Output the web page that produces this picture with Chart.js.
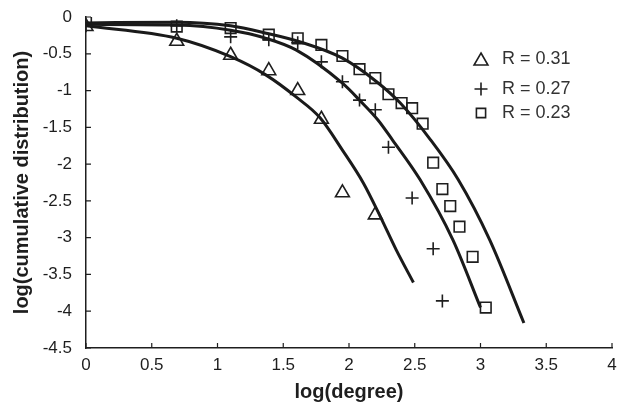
<!DOCTYPE html>
<html>
<head>
<meta charset="utf-8">
<script src="https://cdn.jsdelivr.net/npm/chart.js@4/dist/chart.umd.min.js"></script>
<style>
  html, body { margin: 0; padding: 0; background: #fff; }
  #wrap { width: 618px; height: 408px; }
</style>
</head>
<body>
<div id="wrap"><canvas id="chart" width="618" height="408"></canvas></div>
<script>
// tick labels
const xTicks = ['0', '0.5', '1', '1.5', '2', '2.5', '3', '3.5', '4'];
const yTicks = ['0', '-0.5', '-1', '-1.5', '-2', '-2.5', '-3', '-3.5', '-4', '-4.5'];

// legend labels
const seriesNames = ['R = 0.31', 'R = 0.27', 'R = 0.23'];

// measured points, log(degree) vs log(cumulative distribution)
const triX = [0, 0.69, 1.1, 1.39, 1.61, 1.79, 1.95, 2.2];
const triY = [-0.13, -0.33, -0.52, -0.73, -1.0, -1.39, -2.39, -2.69];

const plusX = [0, 0.69, 1.1, 1.39, 1.61, 1.79, 1.95, 2.08, 2.2, 2.3, 2.48, 2.64, 2.71];
const plusY = [-0.12, -0.12, -0.27, -0.31, -0.35, -0.61, -0.88, -1.13, -1.26, -1.77, -2.46, -3.15, -3.86];

const sqX = [0, 0.69, 1.1, 1.39, 1.61, 1.79, 1.95, 2.08, 2.2, 2.3, 2.4, 2.48, 2.56, 2.64, 2.71, 2.77, 2.84, 2.94, 3.04];
const sqY = [-0.04, -0.13, -0.15, -0.24, -0.29, -0.38, -0.53, -0.71, -0.83, -1.05, -1.17, -1.24, -1.45, -1.98, -2.34, -2.57, -2.85, -3.26, -3.95];

// fitted curves
const fit1X = [0, 0.69, 1.1, 1.37, 1.6, 1.78, 1.95, 2.11, 2.24, 2.36, 2.49];
const fit1Y = [-0.12, -0.29, -0.54, -0.79, -1.09, -1.37, -1.81, -2.26, -2.72, -3.17, -3.61];

const fit2X = [0, 0.69, 1.1, 1.37, 1.6, 1.95, 2.08, 2.22, 2.33, 2.54, 2.79, 3.0];
const fit2Y = [-0.1, -0.11, -0.18, -0.29, -0.45, -0.90, -1.13, -1.40, -1.67, -2.21, -3.03, -3.95];

const fit3X = [0, 0.69, 1.1, 1.37, 1.63, 1.95, 2.21, 2.39, 2.62, 2.83, 3.07, 3.33];
const fit3Y = [-0.08, -0.07, -0.12, -0.22, -0.34, -0.56, -0.88, -1.17, -1.67, -2.21, -3.03, -4.16];

const ink = '#1e1e1e';
const fontFam = '"Liberation Sans", Arial, sans-serif';
const toPts = (xs, ys) => xs.map((x, i) => ({ x: x, y: ys[i] }));

function fitLine(xs, ys) {
    return {
        data: toPts(xs, ys),
        showLine: true,
        borderColor: '#1a1a1a',
        borderWidth: 3,
        pointRadius: 0,
        cubicInterpolationMode: 'monotone',
        fill: false
    };
}

function markers(label, xs, ys, style, r) {
    return {
        label: label,
        data: toPts(xs, ys),
        showLine: false,
        pointStyle: style,
        pointRadius: r,
        pointBorderColor: ink,
        pointBackgroundColor: 'rgba(255,255,255,0)',
        pointBorderWidth: 1.6
    };
}

const triSet = markers(seriesNames[0], triX, triY, 'triangle', 8);
const plusSet = markers(seriesNames[1], plusX, plusY, 'cross', 6.5);
const sqSet = markers(seriesNames[2], sqX, sqY, 'rect', 7.5);

// inward tick marks on the two axes
const innerTicks = {
    id: 'innerTicks',
    afterDraw(chart) {
        const { ctx, chartArea, scales } = chart;
        ctx.save();
        ctx.strokeStyle = ink;
        ctx.lineWidth = 1.2;
        ctx.beginPath();
        scales.x.ticks.forEach(t => {
            const px = scales.x.getPixelForValue(t.value);
            ctx.moveTo(px, chartArea.bottom);
            ctx.lineTo(px, chartArea.bottom - 5);
        });
        scales.y.ticks.forEach(t => {
            const py = scales.y.getPixelForValue(t.value);
            ctx.moveTo(chartArea.left, py);
            ctx.lineTo(chartArea.left + 5, py);
        });
        ctx.stroke();
        ctx.restore();
    }
};

// legend box in the upper right
const sideLegend = {
    id: 'sideLegend',
    afterDraw(chart) {
        const ctx = chart.ctx;
        const sets = [triSet, plusSet, sqSet];
        const rows = [59, 89, 113];
        ctx.save();
        sets.forEach((ds, i) => {
            const opts = {
                pointStyle: ds.pointStyle,
                radius: ds.pointStyle === 'rect' ? 6.5 : ds.pointRadius,
                borderWidth: ds.pointBorderWidth,
                rotation: 0
            };
            ctx.strokeStyle = ink;
            ctx.fillStyle = 'rgba(255,255,255,0)';
            ctx.lineWidth = ds.pointBorderWidth;
            Chart.helpers.drawPoint(ctx, opts, 481, rows[i] + (ds.pointStyle === 'triangle' ? 2 : 0));
            ctx.fillStyle = '#333';
            ctx.font = '18px ' + fontFam;
            ctx.textBaseline = 'middle';
            ctx.textAlign = 'left';
            ctx.fillText(ds.label, 502, rows[i]);
        });
        ctx.restore();
    }
};

new Chart(document.getElementById('chart'), {
    type: 'scatter',
    data: {
        datasets: [
            fitLine(fit1X, fit1Y),
            fitLine(fit2X, fit2Y),
            fitLine(fit3X, fit3Y),
            triSet,
            plusSet,
            sqSet
        ]
    },
    options: {
        responsive: false,
        animation: false,
        layout: { autoPadding: false, padding: { top: 17, right: 6, left: 0, bottom: 0 } },
        plugins: {
            legend: { display: false },
            tooltip: { enabled: false }
        },
        scales: {
            x: {
                type: 'linear',
                min: 0,
                max: 4,
                afterFit: s => { s.height = 60; s.paddingLeft = 0; s.paddingRight = 0; },
                ticks: {
                    stepSize: 0.5,
                    color: ink,
                    padding: 7,
                    maxRotation: 0,
                    font: { family: fontFam, size: 17 },
                    callback: (v, i) => xTicks[i]
                },
                grid: { display: false, drawTicks: false },
                border: { display: true, color: ink, width: 1.5 },
                title: {
                    display: true,
                    text: 'log(degree)',
                    color: ink,
                    padding: { top: 0, bottom: 4 },
                    font: { family: fontFam, size: 20, weight: 'bold' }
                }
            },
            y: {
                type: 'linear',
                min: -4.5,
                max: 0,
                afterFit: s => { s.width = 86; s.paddingTop = 0; s.paddingBottom = 0; },
                ticks: {
                    stepSize: 0.5,
                    color: ink,
                    padding: 14,
                    font: { family: fontFam, size: 17 },
                    callback: (v, i, all) => yTicks[all.length - 1 - i]
                },
                grid: { display: false, drawTicks: false },
                border: { display: true, color: ink, width: 1.5 },
                title: {
                    display: true,
                    text: 'log(cumulative distribution)',
                    color: ink,
                    padding: { top: 10, bottom: 0 },
                    font: { family: fontFam, size: 20, weight: 'bold' }
                }
            }
        }
    },
    plugins: [innerTicks, sideLegend]
});
</script>
</body>
</html>
